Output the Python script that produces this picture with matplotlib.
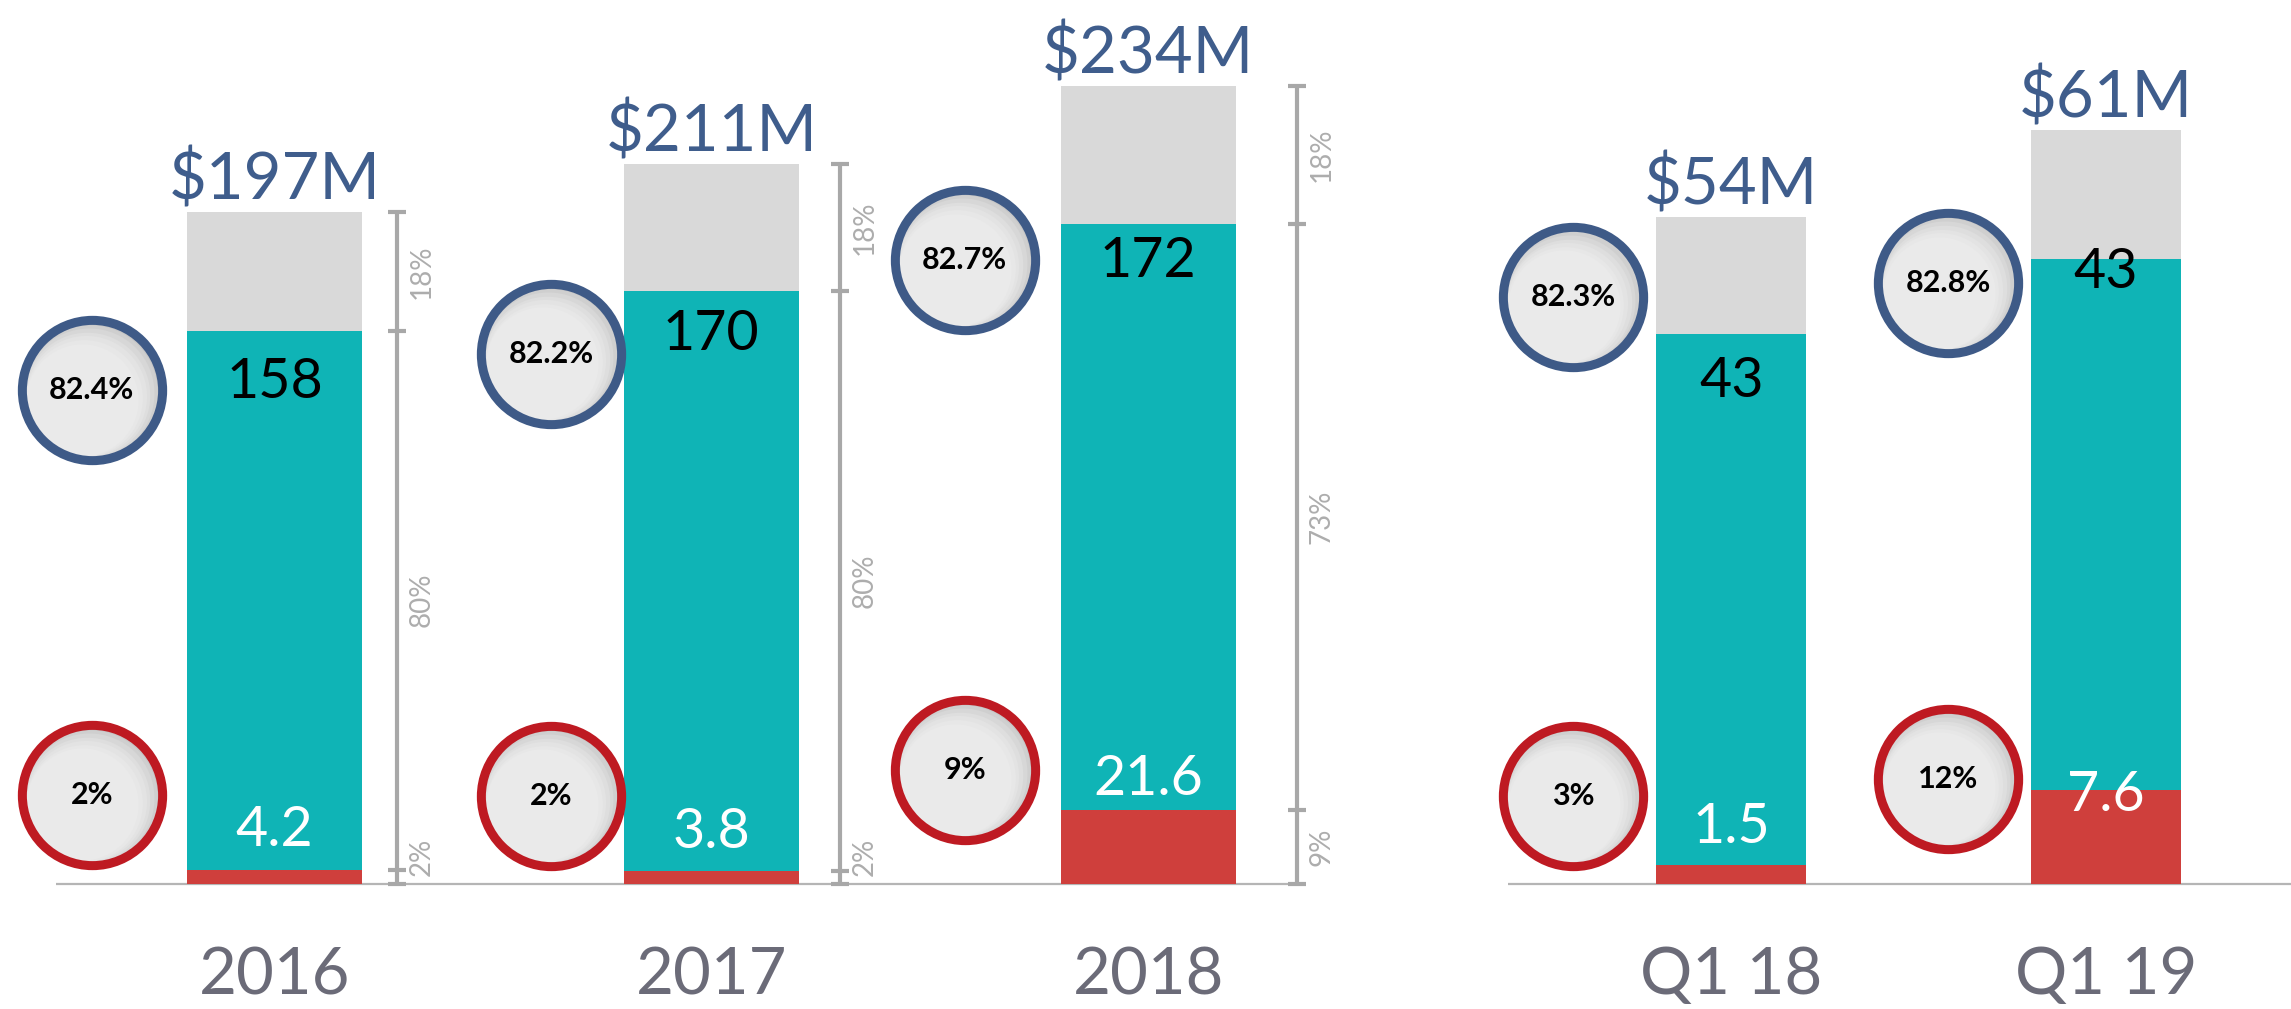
import numpy as np
import matplotlib.pyplot as plt
from matplotlib.transforms import offset_copy

# yearly revenue split ($M)
years = ["2016", "2017", "2018"]
year_totals = [197, 211, 234]
year_teal = [158, 170, 172]
year_red = [4.2, 3.8, 21.6]
year_margin = ["82.4%", "82.2%", "82.7%"]
year_red_pct = ["2%", "2%", "9%"]
year_split = [["2%", "80%", "18%"], ["2%", "80%", "18%"], ["9%", "73%", "18%"]]

# quarterly
quarters = ["Q1 18", "Q1 19"]
q_totals = [54, 61]
q_teal = [43, 43]
q_red = [1.5, 7.6]
q_margin = ["82.3%", "82.8%"]
q_red_pct = ["3%", "12%"]

TEAL = "#0FB4B6"
RED = "#CF3F3C"
GRAY = "#D9D9D9"
BLUE = "#3E5A87"
CRED = "#BE1A22"
LABEL = "#3F5D8C"
CAT = "#6B6B78"
BRK = "#A8A8A8"

plt.rcParams["font.family"] = ["Lato", "DejaVu Sans"]

W, H = 2291, 1009
fig = plt.figure(figsize=(W / 100, H / 100), dpi=100)

# shading steps for the round badges (darker top-right, lighter bottom-left)
shade = ["#C6C6C6", "#CFCFCF", "#D7D7D7", "#DEDEDE", "#E3E3E3", "#E7E7E7", "#EAEAEA"]


def badge(ax, cx, cy, txt, col):
    for k, c in enumerate(shade):
        d = k * 1.6
        tr = offset_copy(ax.transData, fig=fig, x=-d * 0.7071, y=-d * 0.7071, units="points")
        ax.plot(cx, cy, "o", ms=100 - 2 * d, mfc=c, mec="none", transform=tr,
                zorder=3, clip_on=False)
    ax.plot(cx, cy, "o", ms=101, mfc="none", mec=col, mew=6.5, zorder=4, clip_on=False)
    ax.text(cx, cy, txt, ha="center", va="center", fontsize=22,
            fontweight="bold", color="black", zorder=5)


def draw_panel(ax, labels, totals, teal, red, margin, red_pct,
               teal_off, red_off, circ_dx, circ_top, circ_bot):
    x = np.arange(len(labels))
    totals = np.array(totals, dtype=float)
    teal = np.array(teal, dtype=float)
    red = np.array(red, dtype=float)
    gray = totals - teal - red

    ax.bar(x, red, 0.4, color=RED, zorder=2)
    ax.bar(x, teal, 0.4, bottom=red, color=TEAL, zorder=2)
    ax.bar(x, gray, 0.4, bottom=red + teal, color=GRAY, zorder=2)
    ax.axhline(0, color="#B5B5B5", lw=1.6, zorder=1)

    for i in range(len(labels)):
        ax.annotate(f"${totals[i]:.0f}M", (x[i], totals[i]), xytext=(0, 9),
                    textcoords="offset points", ha="center", va="baseline",
                    fontsize=47, color=LABEL)
        ax.annotate(f"{teal[i]:.0f}", (x[i], red[i] + teal[i]), xytext=(0, -teal_off[i]),
                    textcoords="offset points", ha="center", va="center",
                    fontsize=40, color="black")
        ax.annotate(f"{red[i]:g}", (x[i], red[i]), xytext=(0, red_off[i]),
                    textcoords="offset points", ha="center", va="center",
                    fontsize=40, color="white")
        ax.annotate(labels[i], (x[i], 0), xytext=(0, -66),
                    textcoords="offset points", ha="center", va="center",
                    fontsize=47, color=CAT)

        badge(ax, x[i] + circ_dx[i], circ_top[i], margin[i], BLUE)
        badge(ax, x[i] + circ_dx[i], circ_bot[i], red_pct[i], CRED)


# left panel: years
ax1 = fig.add_axes([56 / W, 0, (1298 - 56) / W, 1])
draw_panel(ax1, years, year_totals, year_teal, year_red, year_margin, year_red_pct,
           teal_off=[37, 31, 27], red_off=[28, 28, 22],
           circ_dx=[-0.418, -0.366, -0.42],
           circ_top=[144.8, 155.4, 182.9], circ_bot=[26.1, 25.8, 33.4])
ax1.set_xlim(-0.5, 2.343)
ax1.set_ylim(-125 / 3.411, 884 / 3.411)

# share brackets next to yearly bars
brk_off = [0.28, 0.295, 0.34]
for i in range(len(years)):
    bx = i + brk_off[i]
    r = year_red[i]
    t = year_teal[i]
    tot = year_totals[i]
    ax1.plot([bx, bx], [0, tot], color=BRK, lw=3, solid_capstyle="butt",
             zorder=2, clip_on=False)
    for yy in [0, r, r + t, tot]:
        ax1.plot([bx - 0.021, bx + 0.021], [yy, yy], color=BRK, lw=3,
                 solid_capstyle="butt", zorder=2, clip_on=False)
    mids = [max(r / 2, 8), r + t / 2, r + t + (tot - r - t) / 2]
    for yy, s in zip(mids, year_split[i]):
        ax1.text(bx + 0.057, yy, s, rotation=90, ha="center", va="center",
                 fontsize=20, color="#ADADAD", clip_on=False)

# right panel: quarters
ax2 = fig.add_axes([1508 / W, 0, (W - 1508) / W, 1])
draw_panel(ax2, quarters, q_totals, q_teal, q_red, q_margin, q_red_pct,
           teal_off=[34, 10], red_off=[27, -4],
           circ_dx=[-0.421, -0.421],
           circ_top=[47.5, 48.6], circ_bot=[7.1, 8.5])
ax2.set_xlim(-0.595, 1.493)
ax2.set_ylim(-125 / 12.36, 884 / 12.36)

for ax in (ax1, ax2):
    ax.axis("off")

fig.savefig("out.png", dpi=100)
